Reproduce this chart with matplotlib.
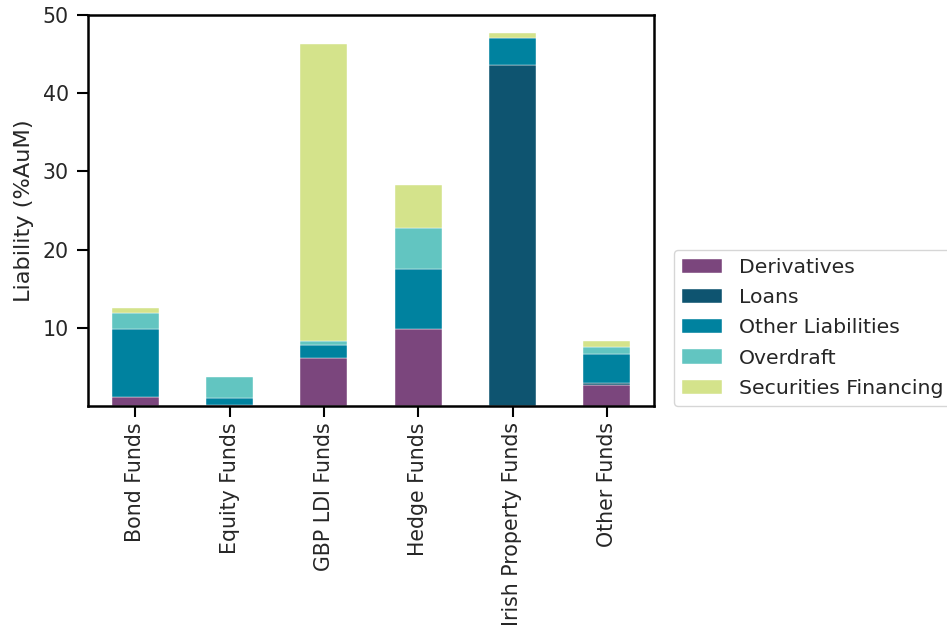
import matplotlib
matplotlib.use("Agg")
import matplotlib.pyplot as plt
import numpy as np
import pandas as pd

categories = ["Bond Funds", "Equity Funds", "GBP LDI Funds", "Hedge Funds",
              "Irish Property Funds", "Other Funds"]
derivatives = [1.1, 0.1, 6.1, 9.8, 0.0, 2.7]
loans = [0.0, 0.0, 0.0, 0.0, 43.6, 0.3]
other_liabilities = [8.8, 0.9, 1.7, 7.7, 3.5, 3.7]
overdraft = [2.0, 2.7, 0.5, 5.3, 0.0, 0.8]
securities_financing = [0.6, 0.0, 38.0, 5.5, 0.6, 0.85]

series_names = ["Derivatives", "Loans", "Other Liabilities", "Overdraft",
                "Securities Financing"]
colors = ["#7b467d", "#0e5470", "#00829f", "#62c5c1", "#d4e38b"]

df = pd.DataFrame(
    {
        "Derivatives": derivatives,
        "Loans": loans,
        "Other Liabilities": other_liabilities,
        "Overdraft": overdraft,
        "Securities Financing": securities_financing,
    },
    index=categories,
)

text_color = "#262626"
plt.rcParams["font.family"] = ["DejaVu Sans"]
plt.rcParams["text.color"] = text_color
plt.rcParams["axes.labelcolor"] = text_color

fig = plt.figure(figsize=(9.47, 6.27), dpi=100)
ax = fig.add_axes([88 / 947, 1 - 406 / 627, (654 - 88) / 947, (406 - 15) / 627])

df[series_names].plot(kind="bar", stacked=True, ax=ax, color=colors,
                      width=0.5, edgecolor="white", linewidth=0.3, legend=False)

ax.set_ylim(0, 50)
ax.set_yticks([10, 20, 30, 40, 50])
ax.set_xlabel("")
ax.set_ylabel("Liability (%AuM)", fontsize=16.2, labelpad=6)
ax.set_xticklabels(categories, rotation=90)
ax.tick_params(axis="both", length=7.7, width=1.5, labelsize=14.8, colors="black",
               labelcolor=text_color)
ax.tick_params(axis="x", pad=4)
ax.tick_params(axis="y", pad=6)

for spine in ax.spines.values():
    spine.set_linewidth(1.8)
    spine.set_color("black")

ax.legend(loc="lower left", bbox_to_anchor=(1.035, 0.0), borderaxespad=0,
          fontsize=14.7, frameon=True, handlelength=1.96, handletextpad=0.85,
          labelspacing=0.55)

fig.savefig("out.png", dpi=100)
